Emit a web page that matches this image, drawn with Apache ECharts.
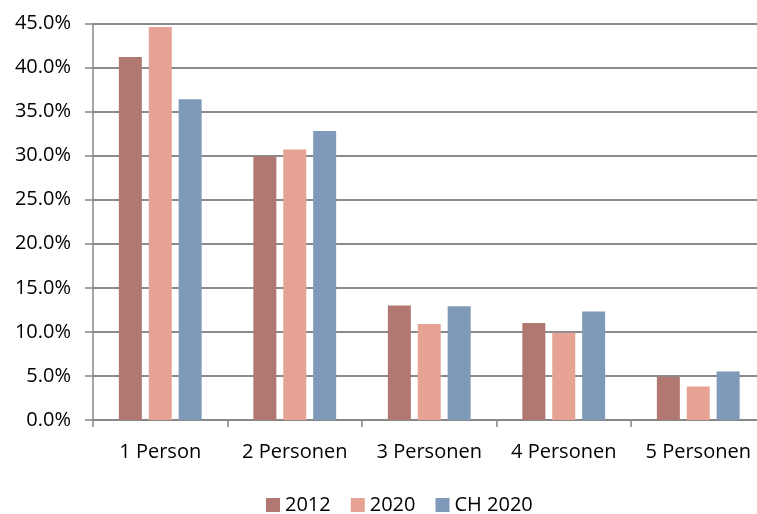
<!DOCTYPE html>
<html><head><meta charset="utf-8">
<script src="https://cdn.jsdelivr.net/npm/echarts@6/dist/echarts.min.js"></script>
<style>html,body{margin:0;padding:0;background:#fff}#c{width:757px;height:514px}</style>
</head><body><div id="c"></div>
<script>
const categories = ['1 Person', '2 Personen', '3 Personen', '4 Personen', '5 Personen'];
const seriesNames = ['2012', '2020', 'CH 2020'];
const values2012 = [41.2, 29.9, 13.0, 11.0, 4.9];
const values2020 = [44.6, 30.7, 10.9, 9.9, 3.8];
const valuesCH2020 = [36.4, 32.8, 12.9, 12.3, 5.5];
const colors = ['#B17872', '#E6A393', '#7F9AB8'];
const font = '"Open Sans", sans-serif';

const chart = echarts.init(document.getElementById('c'));
const data = [values2012, values2020, valuesCH2020];
chart.setOption({
  animation: false,
  color: colors,
  textStyle: {fontFamily: font},
  grid: {left: 93, top: 23.5, height: 396.5, width: 672.5, outerBoundsMode: 'none', containLabel: false},
  legend: {
    left: 261, top: 490, itemWidth: 14, itemHeight: 14, itemGap: 20,
    icon: 'rect',
    textStyle: {fontSize: 20, color: '#000', fontFamily: font},
    data: seriesNames
  },
  xAxis: {
    type: 'category', data: categories, boundaryGap: true,
    axisLine: {lineStyle: {color: '#868686', width: 1.5}},
    axisTick: {show: true, length: 7, interval: 0, lineStyle: {color: '#868686', width: 1.5}},
    axisLabel: {fontSize: 20, color: '#000', margin: 22, interval: 0, fontFamily: font}
  },
  yAxis: {
    type: 'value', min: 0, max: 45, interval: 5,
    axisLine: {show: true, lineStyle: {color: '#868686', width: 1.5}},
    axisTick: {show: true, length: 8, lineStyle: {color: '#868686', width: 1.5}},
    splitLine: {lineStyle: {color: '#8a8a8a', width: 1.8}},
    axisLabel: {fontSize: 20, color: '#000', margin: 22, fontFamily: font,
      formatter: v => v.toFixed(1) + '%'}
  },
  series: seriesNames.map((n, i) => ({
    name: n, type: 'bar', data: data[i], barWidth: 23, barGap: '30%'
  }))
});
</script></body></html>
